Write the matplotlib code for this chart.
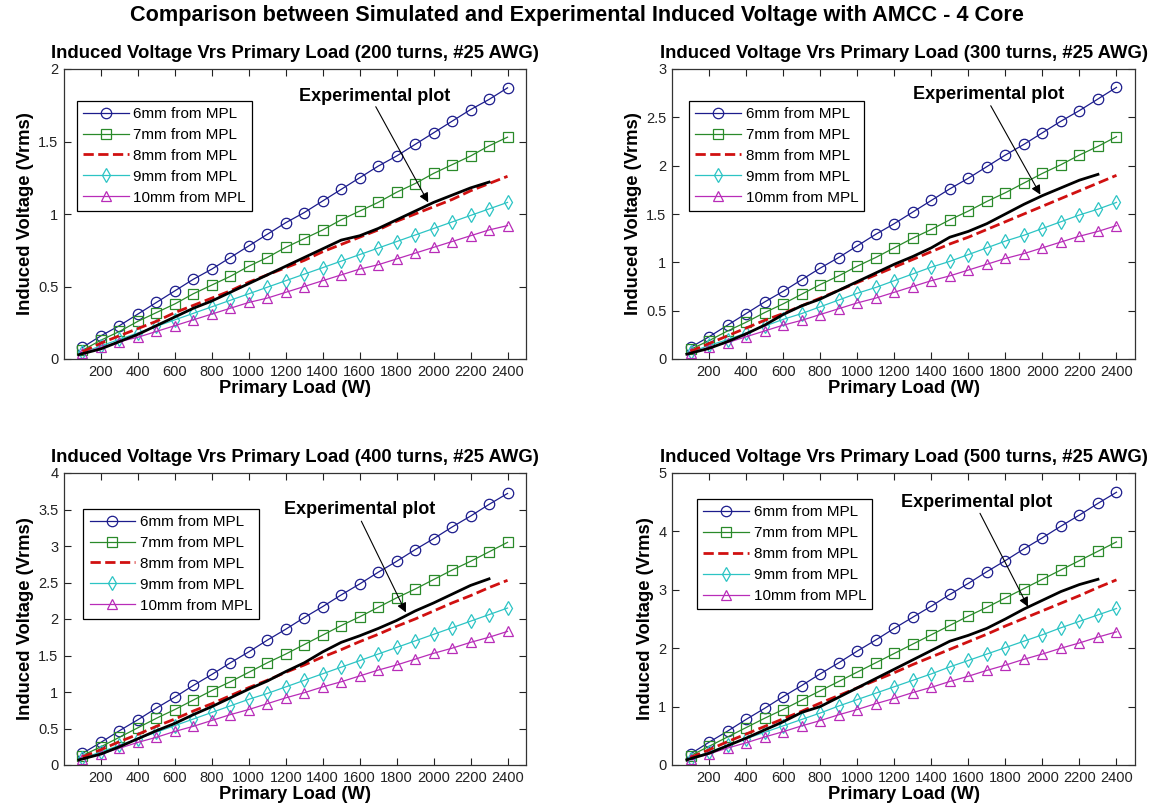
import matplotlib
matplotlib.use("Agg")
import matplotlib.pyplot as plt
from matplotlib.ticker import FuncFormatter

plt.rcParams['font.family'] = ['Liberation Sans', 'DejaVu Sans']

# ---------------- data ----------------
load_sim = [100, 200, 300, 400, 500, 600, 700, 800, 900, 1000, 1100, 1200,
            1300, 1400, 1500, 1600, 1700, 1800, 1900, 2000, 2100, 2200, 2300, 2400]
load_exp = [80, 200, 300, 400, 500, 600, 700, 800, 900, 1000, 1100, 1200,
            1300, 1400, 1500, 1600, 1700, 1800, 1900, 2000, 2100, 2200, 2300]

series_labels = ['6mm from MPL', '7mm from MPL', '8mm from MPL', '9mm from MPL', '10mm from MPL']

# 200 turns
t200_6mm = [0.08, 0.16, 0.23, 0.31, 0.39, 0.47, 0.55, 0.62, 0.70, 0.78, 0.86, 0.94,
            1.01, 1.09, 1.17, 1.25, 1.33, 1.40, 1.48, 1.56, 1.64, 1.72, 1.79, 1.87]
t200_7mm = [0.06, 0.13, 0.19, 0.26, 0.32, 0.38, 0.45, 0.51, 0.57, 0.64, 0.70, 0.77,
            0.83, 0.89, 0.96, 1.02, 1.08, 1.15, 1.21, 1.28, 1.34, 1.40, 1.47, 1.53]
t200_8mm = [0.05, 0.11, 0.16, 0.21, 0.26, 0.32, 0.37, 0.42, 0.47, 0.53, 0.58, 0.63,
            0.68, 0.74, 0.79, 0.84, 0.89, 0.95, 1.00, 1.05, 1.10, 1.16, 1.21, 1.26]
t200_9mm = [0.045, 0.09, 0.135, 0.18, 0.225, 0.27, 0.315, 0.36, 0.405, 0.45, 0.495, 0.54,
            0.585, 0.63, 0.675, 0.72, 0.765, 0.81, 0.855, 0.90, 0.945, 0.99, 1.035, 1.08]
t200_10mm = [0.04, 0.08, 0.12, 0.15, 0.19, 0.23, 0.27, 0.31, 0.35, 0.39, 0.42, 0.46,
             0.50, 0.54, 0.58, 0.62, 0.65, 0.69, 0.73, 0.77, 0.81, 0.85, 0.89, 0.92]
t200_exp = [0.03, 0.07, 0.12, 0.17, 0.23, 0.29, 0.35, 0.40, 0.46, 0.52, 0.58, 0.64,
            0.70, 0.76, 0.82, 0.85, 0.90, 0.96, 1.02, 1.08, 1.13, 1.18, 1.22]

# 300 turns
t300_6mm = [0.12, 0.23, 0.35, 0.47, 0.59, 0.70, 0.82, 0.94, 1.05, 1.17, 1.29, 1.40,
            1.52, 1.64, 1.76, 1.87, 1.99, 2.11, 2.22, 2.34, 2.46, 2.57, 2.69, 2.81]
t300_7mm = [0.10, 0.19, 0.29, 0.38, 0.48, 0.57, 0.67, 0.77, 0.86, 0.96, 1.05, 1.15,
            1.25, 1.34, 1.44, 1.53, 1.63, 1.72, 1.82, 1.92, 2.01, 2.11, 2.20, 2.30]
t300_8mm = [0.08, 0.16, 0.24, 0.32, 0.40, 0.47, 0.55, 0.63, 0.71, 0.79, 0.87, 0.95,
            1.03, 1.11, 1.19, 1.26, 1.34, 1.42, 1.50, 1.58, 1.66, 1.74, 1.82, 1.90]
t300_9mm = [0.07, 0.14, 0.20, 0.27, 0.34, 0.41, 0.47, 0.54, 0.61, 0.68, 0.74, 0.81,
            0.88, 0.95, 1.01, 1.08, 1.15, 1.22, 1.28, 1.35, 1.42, 1.49, 1.55, 1.62]
t300_10mm = [0.06, 0.12, 0.17, 0.23, 0.29, 0.35, 0.40, 0.46, 0.52, 0.58, 0.63, 0.69,
             0.75, 0.81, 0.86, 0.92, 0.98, 1.04, 1.09, 1.15, 1.21, 1.27, 1.32, 1.38]
t300_exp = [0.05, 0.11, 0.18, 0.26, 0.35, 0.46, 0.55, 0.62, 0.71, 0.80, 0.89, 0.98,
            1.06, 1.15, 1.26, 1.32, 1.40, 1.50, 1.60, 1.69, 1.77, 1.85, 1.91]

# 400 turns
t400_6mm = [0.16, 0.31, 0.47, 0.62, 0.78, 0.93, 1.09, 1.24, 1.40, 1.55, 1.71, 1.86,
            2.02, 2.17, 2.33, 2.48, 2.64, 2.79, 2.95, 3.10, 3.26, 3.41, 3.57, 3.72]
t400_7mm = [0.13, 0.25, 0.38, 0.51, 0.64, 0.76, 0.89, 1.02, 1.14, 1.27, 1.40, 1.52,
            1.65, 1.78, 1.91, 2.03, 2.16, 2.29, 2.41, 2.54, 2.67, 2.79, 2.92, 3.05]
t400_8mm = [0.11, 0.21, 0.32, 0.42, 0.53, 0.63, 0.74, 0.84, 0.95, 1.06, 1.16, 1.27,
            1.37, 1.48, 1.58, 1.69, 1.79, 1.90, 2.00, 2.11, 2.22, 2.32, 2.43, 2.53]
t400_9mm = [0.09, 0.18, 0.27, 0.36, 0.45, 0.54, 0.63, 0.72, 0.81, 0.90, 0.98, 1.07,
            1.16, 1.25, 1.34, 1.43, 1.52, 1.61, 1.70, 1.79, 1.88, 1.97, 2.06, 2.15]
t400_10mm = [0.08, 0.15, 0.23, 0.31, 0.38, 0.46, 0.53, 0.61, 0.69, 0.76, 0.84, 0.92,
             0.99, 1.07, 1.14, 1.22, 1.30, 1.37, 1.45, 1.53, 1.60, 1.68, 1.75, 1.83]
t400_exp = [0.07, 0.15, 0.25, 0.36, 0.47, 0.57, 0.69, 0.80, 0.92, 1.04, 1.15, 1.28,
            1.40, 1.55, 1.68, 1.77, 1.87, 1.98, 2.11, 2.22, 2.34, 2.46, 2.55]

# 500 turns
t500_6mm = [0.19, 0.39, 0.58, 0.78, 0.97, 1.17, 1.36, 1.56, 1.75, 1.95, 2.14, 2.34,
            2.53, 2.72, 2.92, 3.11, 3.31, 3.50, 3.70, 3.89, 4.09, 4.28, 4.48, 4.67]
t500_7mm = [0.16, 0.32, 0.48, 0.64, 0.80, 0.95, 1.11, 1.27, 1.43, 1.59, 1.75, 1.91,
            2.07, 2.23, 2.39, 2.55, 2.70, 2.86, 3.02, 3.18, 3.34, 3.50, 3.66, 3.82]
t500_8mm = [0.13, 0.26, 0.40, 0.53, 0.66, 0.79, 0.92, 1.06, 1.19, 1.32, 1.45, 1.58,
            1.72, 1.85, 1.98, 2.11, 2.24, 2.38, 2.51, 2.64, 2.77, 2.90, 3.04, 3.17]
t500_9mm = [0.11, 0.22, 0.34, 0.45, 0.56, 0.67, 0.78, 0.89, 1.01, 1.12, 1.23, 1.34,
            1.45, 1.56, 1.68, 1.79, 1.90, 2.01, 2.12, 2.23, 2.35, 2.46, 2.57, 2.68]
t500_10mm = [0.10, 0.19, 0.29, 0.38, 0.48, 0.57, 0.67, 0.76, 0.86, 0.95, 1.05, 1.14,
             1.24, 1.33, 1.43, 1.52, 1.62, 1.71, 1.81, 1.90, 2.00, 2.09, 2.19, 2.28]
t500_exp = [0.09, 0.20, 0.33, 0.46, 0.60, 0.74, 0.90, 1.00, 1.16, 1.32, 1.48, 1.64,
            1.80, 1.96, 2.12, 2.22, 2.34, 2.50, 2.67, 2.82, 2.97, 3.09, 3.18]

turns = [200, 300, 400, 500]
panel_series = {
    200: [t200_6mm, t200_7mm, t200_8mm, t200_9mm, t200_10mm, t200_exp],
    300: [t300_6mm, t300_7mm, t300_8mm, t300_9mm, t300_10mm, t300_exp],
    400: [t400_6mm, t400_7mm, t400_8mm, t400_9mm, t400_10mm, t400_exp],
    500: [t500_6mm, t500_7mm, t500_8mm, t500_9mm, t500_10mm, t500_exp],
}
y_max = {200: 2, 300: 3, 400: 4, 500: 5}
y_step = {200: 0.5, 300: 0.5, 400: 0.5, 500: 1}
x_ticks = [200, 400, 600, 800, 1000, 1200, 1400, 1600, 1800, 2000, 2200, 2400]

# annotation: text centre, arrow start, arrow end (data coords)
annot = {
    200: ((1680, 1.81), (1687, 1.74), (1971, 1.08)),
    300: ((1711, 2.74), (1721, 2.62), (1989, 1.70)),
    400: ((1600, 3.50), (1609, 3.34), (1850, 2.09)),
    500: ((1644, 4.49), (1663, 4.31), (1922, 2.71)),
}

# ---------------- styling ----------------
colors = ['#1c1c8c', '#2a8a2a', '#d01010', '#2cc4c4', '#b82cb8']
markers = ['o', 's', None, 'd', '^']

axes_pos = {
    200: [64 / 1153, 1 - 359 / 811, 462 / 1153, 290 / 811],
    300: [672 / 1153, 1 - 359 / 811, 463 / 1153, 290 / 811],
    400: [64 / 1153, 1 - 765 / 811, 462 / 1153, 292 / 811],
    500: [672 / 1153, 1 - 765 / 811, 463 / 1153, 292 / 811],
}
legend_anchor = {200: (0.028, 0.89), 300: (0.037, 0.89), 400: (0.042, 0.877), 500: (0.054, 0.91)}

fig = plt.figure(figsize=(11.53, 8.11), dpi=100)
fig.text(0.5, 1 - 16 / 811, 'Comparison between Simulated and Experimental Induced Voltage with AMCC - 4 Core',
         ha='center', va='center', fontsize=15.6, fontweight='bold')

fmt = FuncFormatter(lambda v, p: '%g' % v)

for t in turns:
    ax = fig.add_axes(axes_pos[t])
    data = panel_series[t]
    for i in range(5):
        if markers[i] is None:
            ax.plot(load_sim, data[i], color=colors[i], linestyle='--', linewidth=2.0,
                    label=series_labels[i], zorder=3)
        else:
            ax.plot(load_sim, data[i], color=colors[i], linestyle='-', linewidth=0.9,
                    marker=markers[i], markersize=7.5,
                    markerfacecolor='none', markeredgecolor=colors[i], markeredgewidth=0.9,
                    label=series_labels[i], zorder=2)
    ax.plot(load_exp, data[5], color='black', linewidth=2.0, zorder=4)

    (tx, ty), (sx, sy), (ex, ey) = annot[t]
    ax.text(tx, ty, 'Experimental plot', ha='center', va='center', fontsize=13, fontweight='bold')
    ax.annotate('', xy=(ex, ey), xytext=(sx, sy),
                arrowprops=dict(arrowstyle='-|>', color='black', lw=0.8, mutation_scale=14,
                                shrinkA=0, shrinkB=0))

    ax.set_xlim(0, 2500)
    ax.set_ylim(0, y_max[t])
    ax.set_xticks(x_ticks)
    yt = []
    v = 0.0
    while v <= y_max[t] + 1e-9:
        yt.append(round(v, 2))
        v += y_step[t]
    ax.set_yticks(yt)
    ax.yaxis.set_major_formatter(fmt)
    ax.tick_params(direction='in', top=True, right=True, length=5, width=0.8,
                   labelsize=10.5, pad=4, colors='#222222')
    for s in ax.spines.values():
        s.set_linewidth(0.9)
        s.set_color('#333333')
    ax.set_title('Induced Voltage Vrs Primary Load (%d turns, #25 AWG)' % t,
                 fontsize=13.3, fontweight='bold', pad=8)
    ax.set_xlabel('Primary Load (W)', fontsize=13.2, fontweight='bold', labelpad=1)
    ax.set_ylabel('Induced Voltage (Vrms)', fontsize=13.2, fontweight='bold', labelpad=3)

    leg = ax.legend(loc='upper left', bbox_to_anchor=legend_anchor[t], fontsize=11,
                    frameon=True, fancybox=False, framealpha=1, edgecolor='black',
                    handlelength=3.0, handletextpad=0.3, labelspacing=0.45,
                    borderpad=0.4, borderaxespad=0)
    leg.get_frame().set_linewidth(0.9)

fig.savefig('out.png', dpi=100)
